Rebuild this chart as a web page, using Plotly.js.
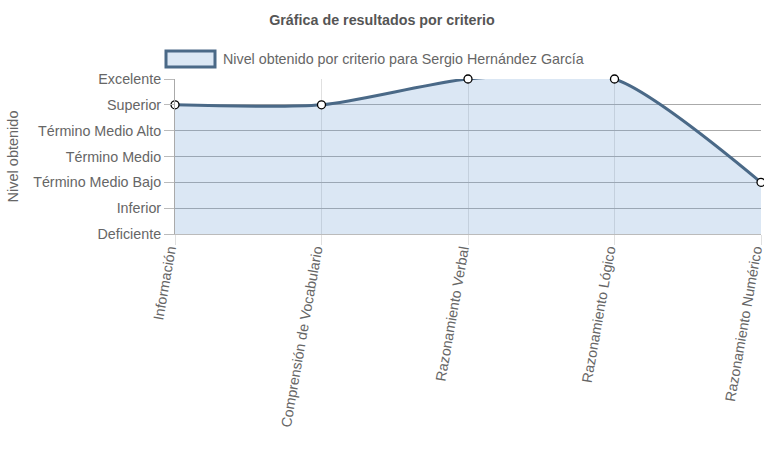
<!DOCTYPE html>
<html>
<head>
<meta charset="utf-8">
<script src="https://cdn.plot.ly/plotly-3.0.1.min.js"></script>
<style>html,body{margin:0;padding:0;background:#fff;}#chart{width:764px;height:466px;}</style>
</head>
<body>
<div id="chart"></div>
<script>
var criterios = ["Información", "Comprensión de Vocabulario", "Razonamiento Verbal", "Razonamiento Lógico", "Razonamiento Numérico"];
var niveles = [5, 5, 6, 6, 2];
var nivelTicks = [0, 1, 2, 3, 4, 5, 6];
var nivelNombres = ["Deficiente", "Inferior", "Término Medio Bajo", "Término Medio", "Término Medio Alto", "Superior", "Excelente"];
var serieNombre = "Nivel obtenido por criterio para Sergio Hernández García";
var tituloGrafica = "Gráfica de resultados por criterio";
var tituloEjeY = "Nivel obtenido";

var font = "Liberation Sans, Arial, sans-serif";
var fillC = "rgba(110,160,210,0.25)";
var lineC = "#4a6987";
var trace = {
  x: criterios,
  y: niveles,
  type: "scatter",
  mode: "lines+markers",
  name: serieNombre,
  fill: "tozeroy",
  fillcolor: fillC,
  line: {color: lineC, width: 3, shape: "spline", smoothing: 0.7},
  marker: {color: "#ffffff", size: 8, line: {color: "#000000", width: 1.3}},
  cliponaxis: false,
  showlegend: false
};

var layout = {
  width: 764, height: 466,
  margin: {l: 175, r: 3, t: 79, b: 232},
  paper_bgcolor: "#ffffff", plot_bgcolor: "#ffffff",
  font: {family: font, color: "#666666", size: 14.3},
  title: {text: "<b>" + tituloGrafica + "</b>", x: 0.5, xref: "container", xanchor: "center", y: 1 - 20/466, yanchor: "middle", font: {family: font, size: 14.3, color: "#555555"}},
  xaxis: {
    type: "category", range: [0, 4],
    tickangle: -80,
    showgrid: true, gridcolor: "#e0e0e0", gridwidth: 1,
    showline: true, linecolor: "#bbbbbb", linewidth: 1,
    ticks: "outside", ticklen: 10, tickcolor: "#e0e0e0",
    ticklabelshift: -6, ticklabelstandoff: -9,
    tickfont: {family: font, size: 14.3, color: "#666666"},
    zeroline: false, fixedrange: true
  },
  yaxis: {
    range: [0, 6],
    tickmode: "array", tickvals: nivelTicks, ticktext: nivelNombres,
    showgrid: true, gridcolor: "#aaaaaa", gridwidth: 1,
    showline: true, linecolor: "#aaaaaa", linewidth: 1,
    ticks: "outside", ticklen: 10, tickcolor: "#bbbbbb",
    tickfont: {family: font, size: 14.3, color: "#666666"},
    title: {text: tituloEjeY, font: {family: font, size: 14.5, color: "#666666"}, standoff: 11},
    zeroline: false, fixedrange: true, automargin: false
  },
  shapes: [{
    type: "rect", xref: "paper", yref: "paper",
    x0: (166 - 175) / 586, x1: (215 - 175) / 586,
    y0: (234 - 67) / 155, y1: (234 - 51) / 155,
    fillcolor: fillC, line: {color: lineC, width: 3}
  }],
  annotations: [{
    xref: "paper", yref: "paper",
    x: (221 - 175) / 586, y: (234 - 59) / 155,
    xanchor: "left", yanchor: "middle", showarrow: false,
    text: serieNombre, font: {family: font, size: 14.3, color: "#666666"}
  }]
};

Plotly.newPlot("chart", [trace], layout, {displayModeBar: false, staticPlot: true});
</script>
</body>
</html>
